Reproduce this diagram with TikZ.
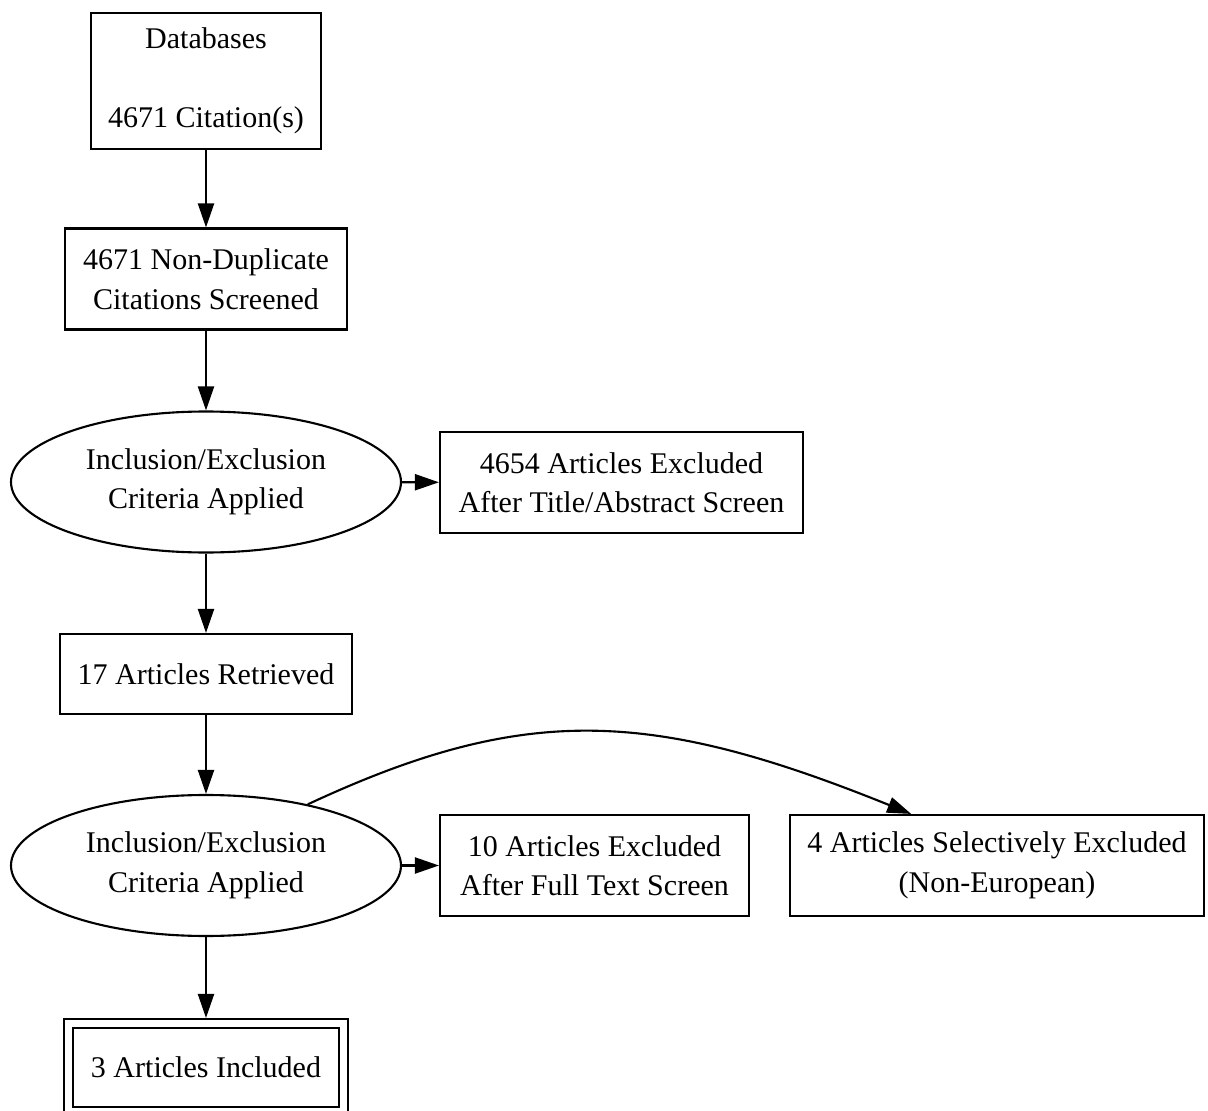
\documentclass[tikz,border=0pt]{standalone}
\usepackage{fontspec}
\setmainfont{Liberation Serif}
\usepackage{tikz}
\usetikzlibrary{arrows.meta,shapes.geometric}
\tikzset{>={Triangle[length=0.24cm,width=0.16cm]}}
\tikzset{
	every node/.style={font=\fontsize{8.54pt}{11.24pt}\selectfont,align=center,inner sep=0pt},
	box/.style={draw,line width=0.6pt,rectangle},
	crit/.style={draw,line width=0.6pt,ellipse,minimum width=3.9cm,minimum height=1.41cm},
	edge/.style={->,line width=0.6pt}
}

\begin{document}
\begin{tikzpicture}
			  
			  \useasboundingbox (0,0) rectangle (12.08,-11.11); % page size
			  
			  % main column
			  \node[box,minimum width=2.30cm,minimum height=1.36cm] (db) at (2.06,-0.81) {Databases\\[11.24pt]4671 Citation(s)};
			  \node[box,minimum width=2.82cm,minimum height=1.01cm] (dedup) at (2.06,-2.79) {4671 Non-Duplicate\\Citations Screened};
			  \node[crit] (crit1) at (2.06,-4.82) {Inclusion/Exclusion\\Criteria Applied};
			  \node[box,minimum width=2.92cm,minimum height=0.80cm] (retr) at (2.06,-6.74) {17 Articles Retrieved};
			  \node[crit] (crit2) at (2.06,-8.655) {Inclusion/Exclusion\\Criteria Applied};
			  \node[box,double,double distance=1.96pt,outer sep=1.58pt,minimum width=2.755cm,minimum height=0.88cm] (incl) at (2.06,-10.675) {3 Articles Included};
			  
			  % excluded ones
			  \node[box,minimum width=3.63cm,minimum height=1.01cm] (excl1) at (6.215,-4.825) {4654 Articles Excluded\\After Title/Abstract Screen};
			  \node[box,minimum width=3.09cm,minimum height=1.01cm] (excl2) at (5.945,-8.655) {10 Articles Excluded\\After Full Text Screen};
			  \node[box,minimum width=4.14cm,minimum height=1.01cm] (selex) at (9.97,-8.655) {4 Articles Selectively Excluded\\(Non-European)};
			  
			  \draw[edge] (db) -- (dedup);
			  \draw[edge] (dedup) -- (crit1);
			  \draw[edge] (crit1) -- (excl1);
			  \draw[edge] (crit1) -- (retr);
			  \draw[edge] (retr) -- (crit2);
			  \draw[edge] (crit2) -- (excl2);
			  \draw[edge] (crit2.31) .. controls +(25:2.4) and +(158:2.8) .. (selex.149);
			  \draw[edge] (crit2) -- (incl);
				
			\end{tikzpicture}
\end{document}
